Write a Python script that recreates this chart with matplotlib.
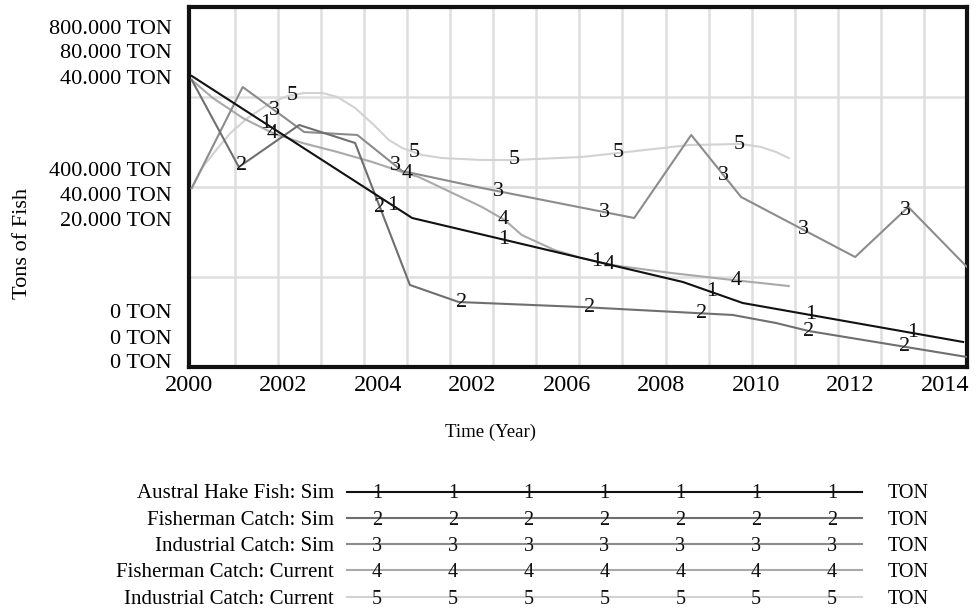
import numpy as np
import matplotlib.pyplot as plt
from matplotlib.lines import Line2D

plt.rcParams["font.family"] = ["Liberation Serif", "DejaVu Serif"]

# time axis is in years, values on the shared plot scale (0 - 800)
yr_fish = [2000.00, 2003.98, 2008.87, 2009.95, 2013.93]
fish_sim = [646.7, 331.1, 188.9, 142.2, 55.6]

yr_fisher = [2000.00, 2000.85, 2001.94, 2002.95, 2003.94, 2004.82, 2007.04,
             2009.77, 2010.55, 2011.14, 2014.00]
fisher_sim = [637.8, 444.4, 537.8, 497.8, 182.2, 144.4, 133.3,
              115.6, 97.8, 80.0, 22.2]

yr_ind = [2000.00, 2000.92, 2002.03, 2002.99, 2003.80, 2005.24, 2007.99,
          2009.02, 2009.92, 2011.98, 2012.94, 2014.00]
ind_sim = [397.8, 622.2, 522.2, 515.6, 435.6, 397.8, 331.1,
           515.6, 377.8, 244.4, 355.6, 222.2]

yr_fisher_cur = [2000.00, 2000.38, 2000.92, 2001.46, 2002.00, 2002.63, 2003.26,
                 2003.80, 2004.10, 2005.24, 2005.65, 2005.96, 2006.55, 2007.04,
                 2007.58, 2008.66, 2009.77, 2010.78]
fisher_cur = [637.8, 597.8, 553.3, 520.0, 497.8, 477.8, 455.6,
              433.3, 422.2, 355.6, 326.7, 293.3, 260.0, 242.2,
              226.7, 208.9, 193.3, 180.0]

yr_ind_cur = [2000.00, 2000.20, 2000.47, 2000.70, 2001.01, 2001.42, 2001.73,
              2002.03, 2002.36, 2002.63, 2002.95, 2003.29, 2003.56, 2003.80,
              2004.16, 2004.52, 2005.24, 2005.83, 2007.04, 2007.70, 2008.98,
              2009.92, 2010.28, 2010.55, 2010.78]
ind_cur = [397.8, 444.4, 486.7, 520.0, 553.3, 586.7, 602.2,
           608.9, 608.9, 600.0, 575.6, 537.8, 504.4, 486.7,
           471.1, 464.4, 460.0, 460.0, 466.7, 475.6, 493.3,
           495.6, 488.9, 477.8, 464.4]

# where the series numbers sit along each line
mark_fish = [2001.33, 2003.62, 2005.63, 2007.31, 2009.38, 2011.17, 2013.01]
mark_fisher = [2000.90, 2003.40, 2004.88, 2007.18, 2009.20, 2011.14, 2012.88]
mark_ind = [2001.49, 2003.67, 2005.54, 2007.45, 2009.61, 2011.05, 2012.88]
mark_fisher_cur = [2001.46, 2003.89, 2005.63, 2007.54, 2009.83]
mark_ind_cur = [2001.82, 2004.01, 2005.83, 2007.70, 2009.88]

nombres = ["Austral Hake Fish: Sim", "Fisherman Catch: Sim", "Industrial Catch: Sim",
           "Fisherman Catch: Current", "Industrial Catch: Current"]
colores = ["#111111", "#6f6f6f", "#8c8c8c", "#a9a9a9", "#d2d2d2"]

x_labels = ["2000", "2002", "2004", "2002", "2006", "2008", "2010", "2012", "2014"]
y_labels = ["800.000 TON", "80.000 TON", "40.000 TON",
            "400.000 TON", "40.000 TON", "20.000 TON",
            "0 TON", "0 TON", "0 TON"]

series = [(yr_fish, fish_sim, mark_fish),
          (yr_fisher, fisher_sim, mark_fisher),
          (yr_ind, ind_sim, mark_ind),
          (yr_fisher_cur, fisher_cur, mark_fisher_cur),
          (yr_ind_cur, ind_cur, mark_ind_cur)]

W, H = 976, 609
fig = plt.figure(figsize=(W / 100, H / 100), dpi=100)
ax = fig.add_axes([189 / W, 1 - 367 / H, (967 - 189) / W, (367 - 7) / H])
ax.set_xlim(2000, 2014)
ax.set_ylim(0, 800)

# grid: 18 columns, 4 rows
for gx in np.linspace(2000, 2014, 19)[1:-1]:
    ax.axvline(gx, color="#dedede", lw=1.8, zorder=0)
for gy in [200, 400, 600]:
    ax.axhline(gy, color="#dedede", lw=1.8, zorder=0)

for i, (xs, ys, marks) in enumerate(series):
    ax.plot(xs, ys, color=colores[i], lw=1.5, zorder=5 - i * 0.1)
    for mx in marks:
        ax.text(mx, np.interp(mx, xs, ys), str(i + 1), ha="center", va="center",
                fontsize=16, color="#111111", zorder=10)

for s in ax.spines.values():
    s.set_linewidth(3)
    s.set_color("#111111")
ax.set_yticks([])
ax.set_xticks(np.linspace(1999.95, 2013.6, 9))
ax.set_xticklabels(x_labels, fontsize=17.5)
ax.tick_params(axis="x", length=0, pad=6)

# stacked scale labels on the left
y_pix = [30, 54, 79, 172, 197, 222, 314, 339, 364]
for lab, py in zip(y_labels, y_pix):
    fig.text(172 / W, 1 - py / H, lab, ha="right", va="center", fontsize=16)

fig.text(491 / W, 1 - 432 / H, "Time (Year)", ha="center", va="center", fontsize=13.5)
fig.text(23 / W, 1 - 243 / H, "Tons of Fish", ha="center", va="center",
         rotation=90, fontsize=16)

# legend rows under the plot
for i, nom in enumerate(nombres):
    fy = 1 - (494 + i * 26.3) / H
    fig.text(334 / W, fy, nom, ha="right", va="center", fontsize=15)
    fig.add_artist(Line2D([347 / W, 862 / W], [fy + 0.004, fy + 0.004],
                          color=colores[i], lw=1.5))
    for lx in np.linspace(377, 832, 7):
        fig.text(lx / W, fy, str(i + 1), ha="center", va="center", fontsize=14.5,
                 color="#111111")
    fig.text(888 / W, fy, "TON", ha="left", va="center", fontsize=14.5)

fig.savefig("out.png", dpi=100)
